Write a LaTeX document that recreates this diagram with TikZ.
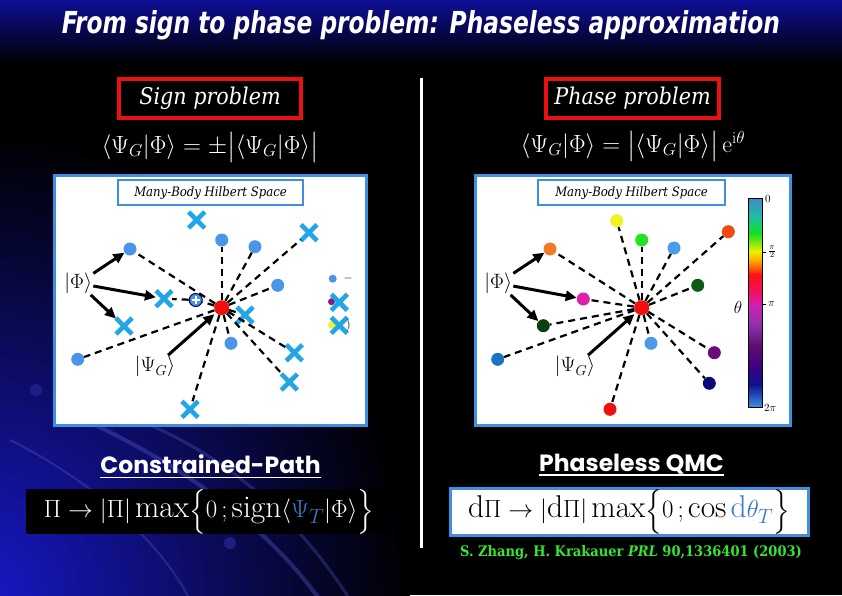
\documentclass[tikz,border=0pt]{standalone}
\usepackage{fontspec}
\usepackage{amsmath}
\usepackage{graphicx}
\usetikzlibrary{arrows.meta,shapes.misc}
\newfontfamily\titlefont{DejaVu Sans Condensed}
\newfontfamily\camb{DejaVu Serif Condensed}
\newfontfamily\heavy{Poppins}
\definecolor{panelblue}{HTML}{3F8FE0}
\definecolor{xblue}{HTML}{22A6E6}
\definecolor{dotblue}{HTML}{4A95E6}
\definecolor{redbox}{HTML}{E81010}
\definecolor{citegreen}{HTML}{33E633}
\definecolor{topblue}{HTML}{0E0E96}
\definecolor{swoosh}{HTML}{1818C8}
\definecolor{psiT}{HTML}{3A78C8}
\definecolor{cOrange}{HTML}{F07A28}
\definecolor{cYellow}{HTML}{F2F21E}
\definecolor{cGreen}{HTML}{22E022}
\definecolor{cLight}{HTML}{4A9BE8}
\definecolor{cOrRed}{HTML}{F04A14}
\definecolor{cDkGreen}{HTML}{0E5A14}
\definecolor{cMagenta}{HTML}{E020A8}
\definecolor{cDkGreenB}{HTML}{0C3E10}
\definecolor{cBlue}{HTML}{1A74C0}
\definecolor{cPurple}{HTML}{6A0C7A}
\definecolor{cNavy}{HTML}{0A0A78}
\definecolor{cRed}{HTML}{F01010}
\definecolor{xpurple}{HTML}{8A1A8A}
% colour bar stops
\definecolor{k0}{HTML}{3C8CC8}
\definecolor{k1}{HTML}{20C0A0}
\definecolor{k2}{HTML}{10E020}
\definecolor{k3}{HTML}{F0F000}
\definecolor{k4}{HTML}{FFA000}
\definecolor{k5}{HTML}{FF1010}
\definecolor{k6}{HTML}{F01070}
\definecolor{k7}{HTML}{D020B0}
\definecolor{k8}{HTML}{9030B0}
\definecolor{k9}{HTML}{601070}
\definecolor{k10}{HTML}{400080}
\definecolor{k11}{HTML}{101090}
\definecolor{k12}{HTML}{3A90E0}
\tikzset{
 panel/.style={draw=panelblue, line width=3pt, fill=white},
 tagbox/.style={draw=panelblue, line width=2.5pt, fill=white, minimum width=185pt, minimum height=25pt, inner sep=0pt, font=\camb\itshape\fontsize{13}{15}\selectfont},
 probbox/.style={draw=redbox, line width=4.5pt, fill=black, text=white, minimum height=39pt, inner sep=0pt, font=\camb\itshape\fontsize{23}{26}\selectfont},
 dot/.style={circle, inner sep=0pt, minimum size=13pt, fill=#1},
 cdot/.style={circle, inner sep=0pt, minimum size=15pt, fill=cRed},
 xmark/.style={cross out, draw=xblue, line width=4.6pt, minimum size=11.5pt, inner sep=0pt},
 pdot/.style={circle, inner sep=0pt, minimum size=5pt, fill=#1},
 dline/.style={draw=black, line width=2.2pt, dash pattern=on 7pt off 5pt},
 arr/.style={draw=black, line width=3pt, -{Triangle[length=11pt,width=10pt]}},
 ket/.style={font=\fontsize{20}{24}\selectfont, inner sep=1pt},
 eq/.style={text=white, inner sep=0pt, font=\fontsize{24}{28}\selectfont},
 head/.style={text=white, inner sep=0pt, font=\heavy\bfseries\fontsize{23.5}{26}\selectfont},
 fml/.style={inner sep=0pt, font=\fontsize{31.5}{34}\selectfont},
 cbl/.style={anchor=west, inner sep=0pt, font=\fontsize{11}{13}\selectfont},
}
\begin{document}
\begin{tikzpicture}[x=1pt,y=-1pt]
\useasboundingbox (0,0) rectangle (842,595);
\clip (0,0) rectangle (842,595);
% background
\fill[black] (0,0) rectangle (842,595);
\shade[inner color=swoosh, outer color=black] (-20,600) ellipse (430 and 470);
\shade[top color=topblue, bottom color=black] (0,0) rectangle (842,64);
\draw[swoosh!70!white, line width=4pt, opacity=0.35] (95,425) .. controls (190,470) and (270,530) .. (320,600);
\draw[swoosh!70!white, line width=3pt, opacity=0.3] (150,425) .. controls (230,460) and (300,520) .. (350,600);
\draw[swoosh!60!white, line width=2pt, opacity=0.25] (10,440) .. controls (90,480) and (160,540) .. (190,600);
\fill[swoosh!80!white, opacity=0.35] (230,543) circle (6);
\fill[swoosh!80!white, opacity=0.3] (36,390) circle (6);

% title
\node[text=white, inner sep=0pt, font=\titlefont\bfseries\itshape\fontsize{26}{30}\selectfont] (title) at (421,25) {\resizebox{718pt}{23pt}{From sign to phase problem: Phaseless approximation}};

% divider
\draw[white, line width=3pt] (421,78) -- (421,548);

% problem boxes
\node[probbox, minimum width=182pt] (sign) at (210,98.5) {Sign problem};
\node[probbox, minimum width=173pt] (phase) at (632.5,98.5) {Phase problem};
\node[eq] (eqL) at (210,147) {$\langle\Psi_G|\Phi\rangle=\pm\bigl|\langle\Psi_G|\Phi\rangle\bigr|$};
\node[eq] (eqR) at (633,146) {$\langle\Psi_G|\Phi\rangle=\bigl|\langle\Psi_G|\Phi\rangle\bigr|\,\mathrm{e}^{\mathrm{i}\theta}$};

% ---------- left panel ----------
\node[panel, minimum width=312pt, minimum height=250pt, inner sep=0pt] (pL) at (210.5,300) {};
\node[tagbox] (tagL) at (210.5,192.5) {Many-Body Hilbert Space};

\node[cdot] (c) at (221.7,307.7) {};
\node[dot=dotblue] (b1) at (130,249) {};
\node[dot=dotblue] (b2) at (221.7,240) {};
\node[dot=dotblue] (b3) at (255,246.7) {};
\node[dot=dotblue] (b4) at (277.7,285.3) {};
\node[dot=dotblue] (b5) at (231,343.3) {};
\node[dot=dotblue] (b6) at (77.7,359.3) {};
\foreach \n/\x/\y in {x1/196.7/220, x2/309/232.7, x3/164/298.7, x4/124/326, x5/245/315, x6/294.3/352.7, x7/289.3/382, x8/190/409.3}{
  \node[pdot=xpurple] (p\n) at (\x,\y) {};
  \node[xmark] (\n) at (\x,\y) {};
}
\node[circle, draw=black!70!blue, line width=1pt, fill=dotblue, minimum size=13pt, inner sep=0pt,
  path picture={\draw[white, line width=2pt] ([xshift=-4pt]path picture bounding box.center) -- ([xshift=4pt]path picture bounding box.center) ([yshift=-4pt]path picture bounding box.center) -- ([yshift=4pt]path picture bounding box.center);}] (plus) at (195.7,300) {};

\foreach \t in {b1,b2,b3,x2,b4,x5,b5,x6,x7,x8,b6,plus}{\draw[dline] (c) -- (\t);}
\draw[dline] (plus) -- (x3);

\node[ket] (phiL) at (78.3,283.3) {$|\Phi\rangle$};
\node[ket] (psiL) at (155,366.7) {$|\Psi_G\rangle$};
\draw[arr] (phiL) -- (b1);
\draw[arr] (phiL) -- (x3);
\draw[arr] (phiL) -- (x4);
\draw[arr, shorten >=2pt] (psiL) -- (c);

% legend fragment
\node[pdot=dotblue, minimum size=8pt] (lg1) at (332.7,278.7) {};
\node[inner sep=0pt, font=\fontsize{12}{14}\selectfont] (lg1t) at (348,278.7) {$-$};
\node[pdot=xpurple, minimum size=7pt] (lg2p) at (331.5,301.7) {};
\node[xmark] (lg2) at (339.3,302.3) {};
\node[pdot=cYellow, minimum size=7pt] (lg3p) at (331.5,325) {};
\node[xmark] (lg3) at (339.3,325.3) {};
\node[inner sep=0pt, font=\fontsize{12}{14}\selectfont] (lg3t) at (348.5,325.3) {)};

% ---------- right panel ----------
\node[panel, minimum width=315pt, minimum height=250pt, inner sep=0pt] (pR) at (632.5,300) {};
\node[tagbox, minimum width=187pt] (tagR) at (631.5,192.5) {Many-Body Hilbert Space};

\node[cdot] (cR) at (641.7,307.7) {};
\node[dot=cOrange] (o1) at (550,249) {};
\node[dot=cYellow] (o2) at (616.7,220.7) {};
\node[dot=cGreen] (o3) at (641.7,240) {};
\node[dot=cLight] (o4) at (674,248) {};
\node[dot=cOrRed] (o5) at (728.3,231.7) {};
\node[dot=cDkGreen] (o6) at (697.7,285.3) {};
\node[dot=cMagenta] (o7) at (583.3,299) {};
\node[dot=cDkGreenB] (o8) at (543.3,325.7) {};
\node[dot=cBlue] (o9) at (497.7,359.3) {};
\node[dot=cLight] (o10) at (651,343.3) {};
\node[dot=cPurple] (o11) at (714.3,352.7) {};
\node[dot=cNavy] (o12) at (709.3,383.3) {};
\node[dot=cRed] (o13) at (610,409.3) {};
\foreach \t in {o1,o2,o3,o4,o5,o6,o7,o8,o9,o10,o11,o12,o13}{\draw[dline] (cR) -- (\t);}

\node[ket] (phiR) at (498.3,283.3) {$|\Phi\rangle$};
\node[ket] (psiR) at (575,366.7) {$|\Psi_G\rangle$};
\draw[arr] (phiR) -- (o1);
\draw[arr] (phiR) -- (o7);
\draw[arr] (phiR) -- (o8);
\draw[arr, shorten >=2pt] (psiR) -- (cR);

% colour bar
\foreach \ya/\yb/\ca/\cb in {198/218.5/k0/k1, 218/233.5/k1/k2, 233/252/k2/k3, 251.5/262/k3/k4, 261.5/275/k4/k5, 274.5/295/k5/k6, 294.5/305/k6/k7, 304.5/325/k7/k8, 324.5/345/k8/k9, 344.5/365/k9/k10, 364.5/385/k10/k11, 384.5/407/k11/k12}{
  \shade[top color=\ca, bottom color=\cb] (748,\ya) rectangle (762,\yb);
}
\draw[black, line width=0.6pt] (748,198) rectangle (762,407);
\draw[black, line width=0.6pt] (762,252) -- (766,252) (762,304) -- (766,304);
\node[cbl] (l0) at (765,199) {$0$};
\node[cbl] (l1) at (768,252) {$\frac{\pi}{2}$};
\node[cbl] (l2) at (768,304) {$\pi$};
\node[cbl] (l3) at (764,408) {$2\pi$};
\node[inner sep=0pt, font=\fontsize{18}{20}\selectfont] (th) at (738,307) {$\theta$};

% ---------- bottom ----------
\node[head] (hL) at (210.5,464) {Constrained-Path};
\draw[white, line width=1.6pt] ([yshift=-4pt]hL.base west) -- ([yshift=-4pt]hL.base east);
\node[fill=black, minimum width=366pt, minimum height=37pt, text=white, fml] (fL) at (209,511.5) {$\Pi\to|\Pi|\max\Bigl\{0\,;\mathrm{sign}\langle{\color{psiT}\Psi_T}|\Phi\rangle\Bigr\}$};

\node[head] (hR) at (631.5,464) {Phaseless QMC};
\draw[white, line width=1.6pt] ([yshift=-4pt]hR.base west) -- ([yshift=-4pt]hR.base east);
\node[draw=panelblue, line width=3pt, fill=white, minimum width=358pt, minimum height=47pt, fml] (fR) at (629,511.5) {$\mathrm{d}\Pi\to|\mathrm{d}\Pi|\max\Bigl\{0\,;\cos{\color{psiT}\mathrm{d}\theta_T}\Bigr\}$};

\node[text=citegreen, inner sep=0pt, font=\camb\bfseries\fontsize{14.5}{16}\selectfont] (cite) at (631,552.5) {S. Zhang, H. Krakauer \textit{PRL} 90,1336401 (2003)};
\end{tikzpicture}
\end{document}
